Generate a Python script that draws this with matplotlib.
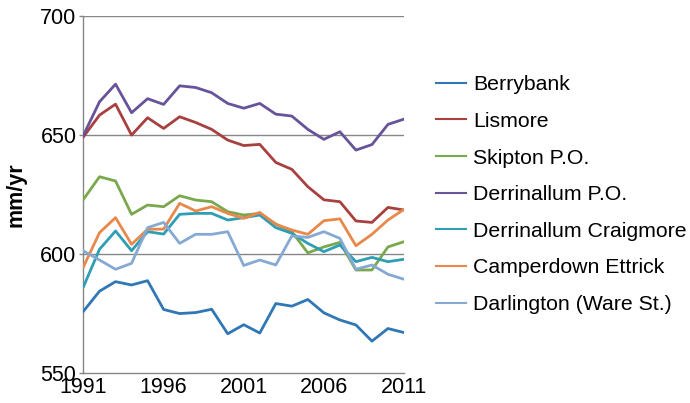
import matplotlib.pyplot as plt
from matplotlib.lines import Line2D

plt.rcParams['font.family'] = ['Liberation Sans', 'DejaVu Sans']

years = list(range(1991, 2012))

berrybank = [576, 584.4, 588.4, 587, 588.8, 576.7, 575, 575.4, 576.8, 566.5, 570.3,
             566.8, 579.2, 578.1, 580.9, 575.3, 572.3, 570.2, 563.4, 568.7, 567]
lismore = [649.3, 658.4, 663, 650, 657.3, 652.8, 657.7, 655.3, 652.4, 647.9, 645.6,
           646.1, 638.5, 635.6, 628.3, 622.8, 622, 613.9, 613.3, 619.6, 618.5]
skipton = [623, 632.5, 630.7, 616.7, 620.6, 619.9, 624.5, 622.7, 622, 617.8, 616.4,
           617.1, 612.6, 609.4, 600.5, 603, 604.9, 593.3, 593.3, 603, 605.2]
derr_po = [650, 664, 671.4, 659.4, 665.3, 662.9, 670.7, 670, 667.8, 663.3, 661.3,
           663.3, 658.8, 658, 652.4, 648.2, 651.4, 643.7, 646, 654.5, 656.7]
derr_craig = [586.3, 602, 609.7, 601.4, 609.4, 608.4, 616.7, 617.1, 617.1, 614.3, 615.3,
              616.4, 611.1, 608.7, 604.5, 601, 603.8, 596.8, 598.6, 596.8, 597.8]
camperdown = [594.7, 609, 615.3, 604.1, 610.4, 610.5, 621.3, 618.1, 619.9, 617.1, 615,
              617.5, 612.5, 610.1, 608.3, 614, 614.8, 603.5, 608.3, 614.3, 618.8]
darlington = [601.3, 597.5, 593.6, 596.1, 611.1, 613.3, 604.5, 608.3, 608.3, 609.4, 595.2,
              597.5, 595.4, 607.6, 607, 609.4, 606.6, 593.6, 595.4, 591.5, 589.4]

names = ['Berrybank', 'Lismore', 'Skipton P.O.', 'Derrinallum P.O.',
         'Derrinallum Craigmore', 'Camperdown Ettrick', 'Darlington (Ware St.)']
series = [berrybank, lismore, skipton, derr_po, derr_craig, camperdown, darlington]
colors = ['#3077B5', '#A8403F', '#79A84D', '#67539A', '#2E9EB5', '#E8884A', '#86A9D4']

fig = plt.figure(figsize=(6.9, 4.03), dpi=100)
ax = fig.add_axes([0.121, 0.0744, 0.4645, 0.8856])

# gridlines (the 700 one doubles as the top border)
for y in [600, 650, 700]:
    ax.axhline(y, color='#868686', lw=1, zorder=1)

for vals, c in zip(series, colors):
    ax.plot(years, vals, color=c, lw=2, zorder=3)

ax.set_xlim(1991, 2011)
ax.set_ylim(550, 700)
ax.set_xticks([1991, 1996, 2001, 2006, 2011])
ax.set_yticks([550, 600, 650, 700])
ax.tick_params(axis='x', length=0, labelsize=15.5, pad=3)
ax.tick_params(axis='y', length=3, width=1, color='#868686', labelsize=15.5, pad=2)
for s in ['top', 'right']:
    ax.spines[s].set_visible(False)
for s in ['left', 'bottom']:
    ax.spines[s].set_color('#868686')
    ax.spines[s].set_linewidth(1)
ax.set_ylabel('mm/yr', fontsize=15.5, fontweight='bold', labelpad=10)

handles = [Line2D([], [], color=c, lw=1.5) for c in colors]
fig.legend(handles, names, loc='center left', bbox_to_anchor=(0.632, 0.517),
           frameon=False, fontsize=15.3, handlelength=1.4, handletextpad=0.35,
           labelspacing=0.83, borderaxespad=0, borderpad=0)

fig.savefig('out.png', dpi=100)
